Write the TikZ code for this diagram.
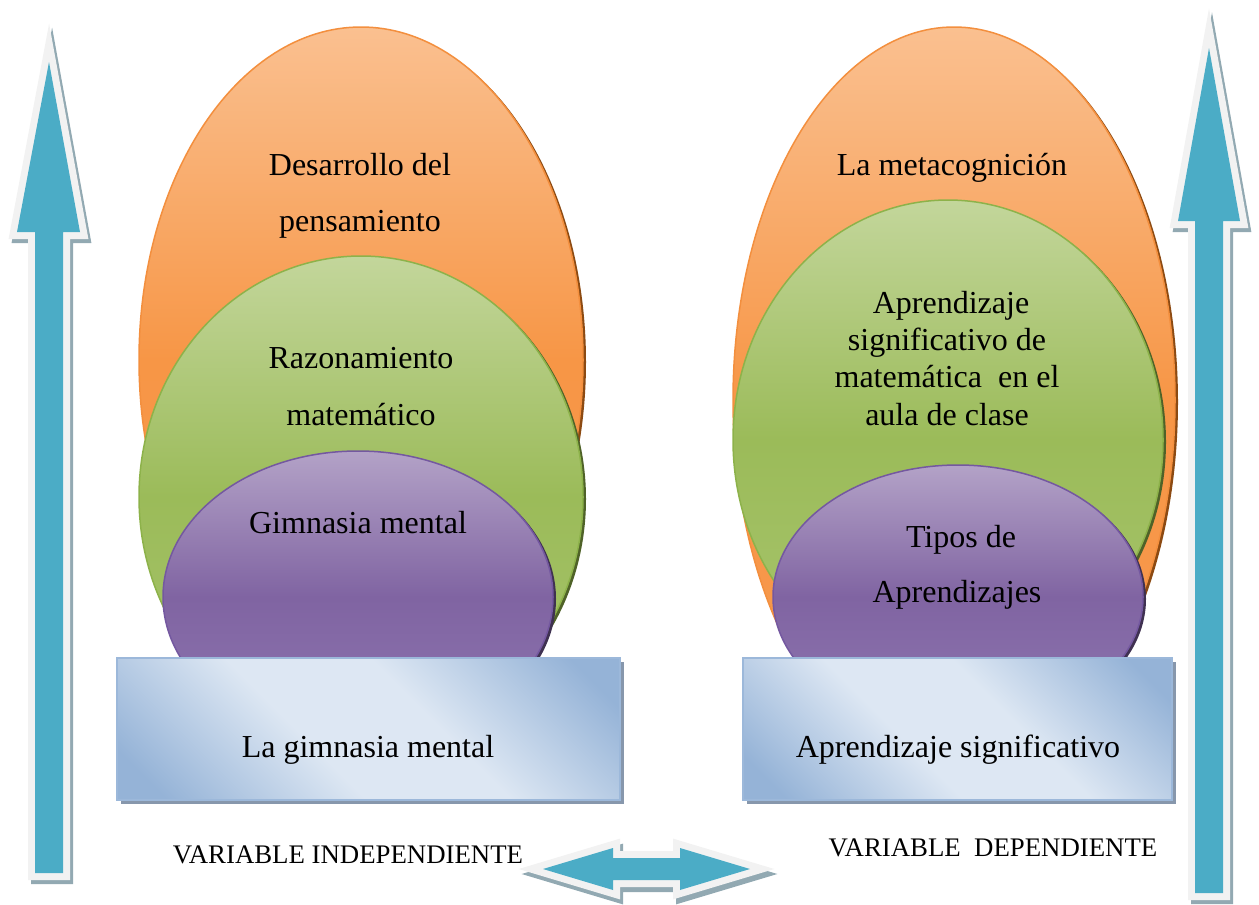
\documentclass[tikz,border=0pt]{standalone}
\usepackage{fontspec}
\setmainfont{Liberation Serif}
\definecolor{oL}{HTML}{FAC090}
\definecolor{oM}{HTML}{F79646}
\definecolor{oE}{HTML}{F6994E}
\definecolor{oB}{HTML}{F38F3E}
\definecolor{oS}{HTML}{8C4A12}
\definecolor{gL}{HTML}{C3D69B}
\definecolor{gM}{HTML}{9BBB59}
\definecolor{gE}{HTML}{A8C56E}
\definecolor{gB}{HTML}{8DB24A}
\definecolor{gS}{HTML}{4F6228}
\definecolor{pL}{HTML}{B3A2C7}
\definecolor{pM}{HTML}{8064A2}
\definecolor{pE}{HTML}{8E76B0}
\definecolor{pB}{HTML}{7458A0}
\definecolor{pS}{HTML}{3F3151}
\definecolor{bxL}{HTML}{DDE7F3}
\definecolor{bxD}{HTML}{95B3D7}
\definecolor{bxB}{HTML}{9CB8DA}
\definecolor{bxS}{HTML}{8797AC}
\definecolor{arB}{HTML}{4BACC6}
\definecolor{arW}{HTML}{F2F2F2}
\definecolor{arS}{HTML}{92A9B2}
\pgfdeclarehorizontalshading{boxshade}{100bp}{color(0bp)=(bxD); color(20bp)=(bxD); color(42bp)=(bxL); color(58bp)=(bxL); color(80bp)=(bxD); color(100bp)=(bxD)}
\newcommand\arrowLpath{(49,62) -- (80,232) -- (63,232) -- (63,873) -- (35,873) -- (35,232) -- (17,232) -- cycle}
\newcommand\arrowRpath{(1209,48) -- (1240,221) -- (1223,221) -- (1223,893) -- (1195,893) -- (1195,221) -- (1178,221) -- cycle}
\newcommand\arrowDpath{(543,869) -- (613,848) -- (613,858) -- (680,858) -- (680,848) -- (750,869) -- (680,890) -- (680,880) -- (613,880) -- (613,890) -- cycle}
\begin{document}
\begin{tikzpicture}[x=1pt,y=-1pt,
  txt/.style={font=\fontsize{32}{38}\selectfont, anchor=base, inner sep=0pt},
  vtxt/.style={font=\fontsize{26.8}{32}\selectfont, anchor=base, inner sep=0pt},
  orangeov/.style={draw=oB, line width=1.5pt, top color=oL, bottom color=oE, middle color=oM},
  greenov/.style={draw=gB, line width=1.5pt, top color=gL, bottom color=gE, middle color=gM},
  purpleov/.style={draw=pB, line width=1.5pt, top color=pL, bottom color=pE, middle color=pM},
  boxfill/.style={draw=bxB, line width=1.5pt, shading=boxshade, shading angle=45},
  boxshadow/.style={fill=bxS},
  arrowshadow/.style={fill=arS, draw=arS, line width=14pt, line join=miter, miter limit=20},
  arrowrim/.style={fill=arW, draw=arW, line width=14pt, line join=miter, miter limit=20},
  arrowbody/.style={fill=arB}]
\useasboundingbox (0,0) rectangle (1259,905);

% ---------- left stack ----------
\fill[oS] (364,362) ellipse [x radius=222pt, y radius=333pt];
\path[orangeov] (361,360) ellipse [x radius=222pt, y radius=333pt];
\fill[gS] (364,499) ellipse [x radius=222pt, y radius=241pt];
\path[greenov] (361,497) ellipse [x radius=222pt, y radius=241pt];
\fill[pS] (361,599) ellipse [x radius=195pt, y radius=146pt];
\path[purpleov] (358,597) ellipse [x radius=195pt, y radius=146pt];

% ---------- right stack ----------
\fill[oS] (957,402) ellipse [x radius=221pt, y radius=373pt];
\path[orangeov] (954,400) ellipse [x radius=221pt, y radius=373pt];
\fill[gS] (951,442) ellipse [x radius=215pt, y radius=240pt];
\path[greenov] (948,440) ellipse [x radius=215pt, y radius=240pt];
\fill[pS] (961,599) ellipse [x radius=185pt, y radius=132pt];
\path[purpleov] (958,597) ellipse [x radius=185pt, y radius=132pt];

% ---------- boxes ----------
\path[boxshadow] (121,662) rectangle (624,804);
\path[boxfill] (117,658) rectangle (620,800);
\path[boxshadow] (747,662) rectangle (1176,804);
\path[boxfill] (743,658) rectangle (1172,800);

% ---------- texts ----------
\node[txt] (l1a) at (360,175) {Desarrollo del};
\node[txt] (l1b) at (360,231) {pensamiento};
\node[txt] (l2a) at (361,368) {Razonamiento};
\node[txt] (l2b) at (361,425) {matemático};
\node[txt] (l3) at (358,533) {Gimnasia mental};
\node[txt] (l4) at (368,757) {La gimnasia mental};

\node[txt] (r1) at (952,175) {La metacognición};
\node[txt] (r2a) at (951,313) {Aprendizaje};
\node[txt] (r2b) at (947,350) {significativo de};
\node[txt] (r2c) at (947,387) {matemática~ en el};
\node[txt] (r2d) at (947,425) {aula de clase};
\node[txt] (r3a) at (961,547) {Tipos de};
\node[txt] (r3b) at (957,602) {Aprendizajes};
\node[txt] (r4) at (958,757) {Aprendizaje significativo};

\node[vtxt] (vi) at (348,863) {VARIABLE INDEPENDIENTE};
\node[vtxt] (vd) at (993,856) {VARIABLE~ DEPENDIENTE};

% ---------- arrows ----------
\path[arrowshadow, shift={(3,4)}] \arrowLpath;
\path[arrowrim] \arrowLpath;
\path[arrowbody] \arrowLpath;

\path[arrowshadow, shift={(3,4)}] \arrowRpath;
\path[arrowrim] \arrowRpath;
\path[arrowbody] \arrowRpath;

\path[arrowshadow, shift={(3,5)}] \arrowDpath;
\path[arrowrim] \arrowDpath;
\path[arrowbody] \arrowDpath;
\end{tikzpicture}
\end{document}
